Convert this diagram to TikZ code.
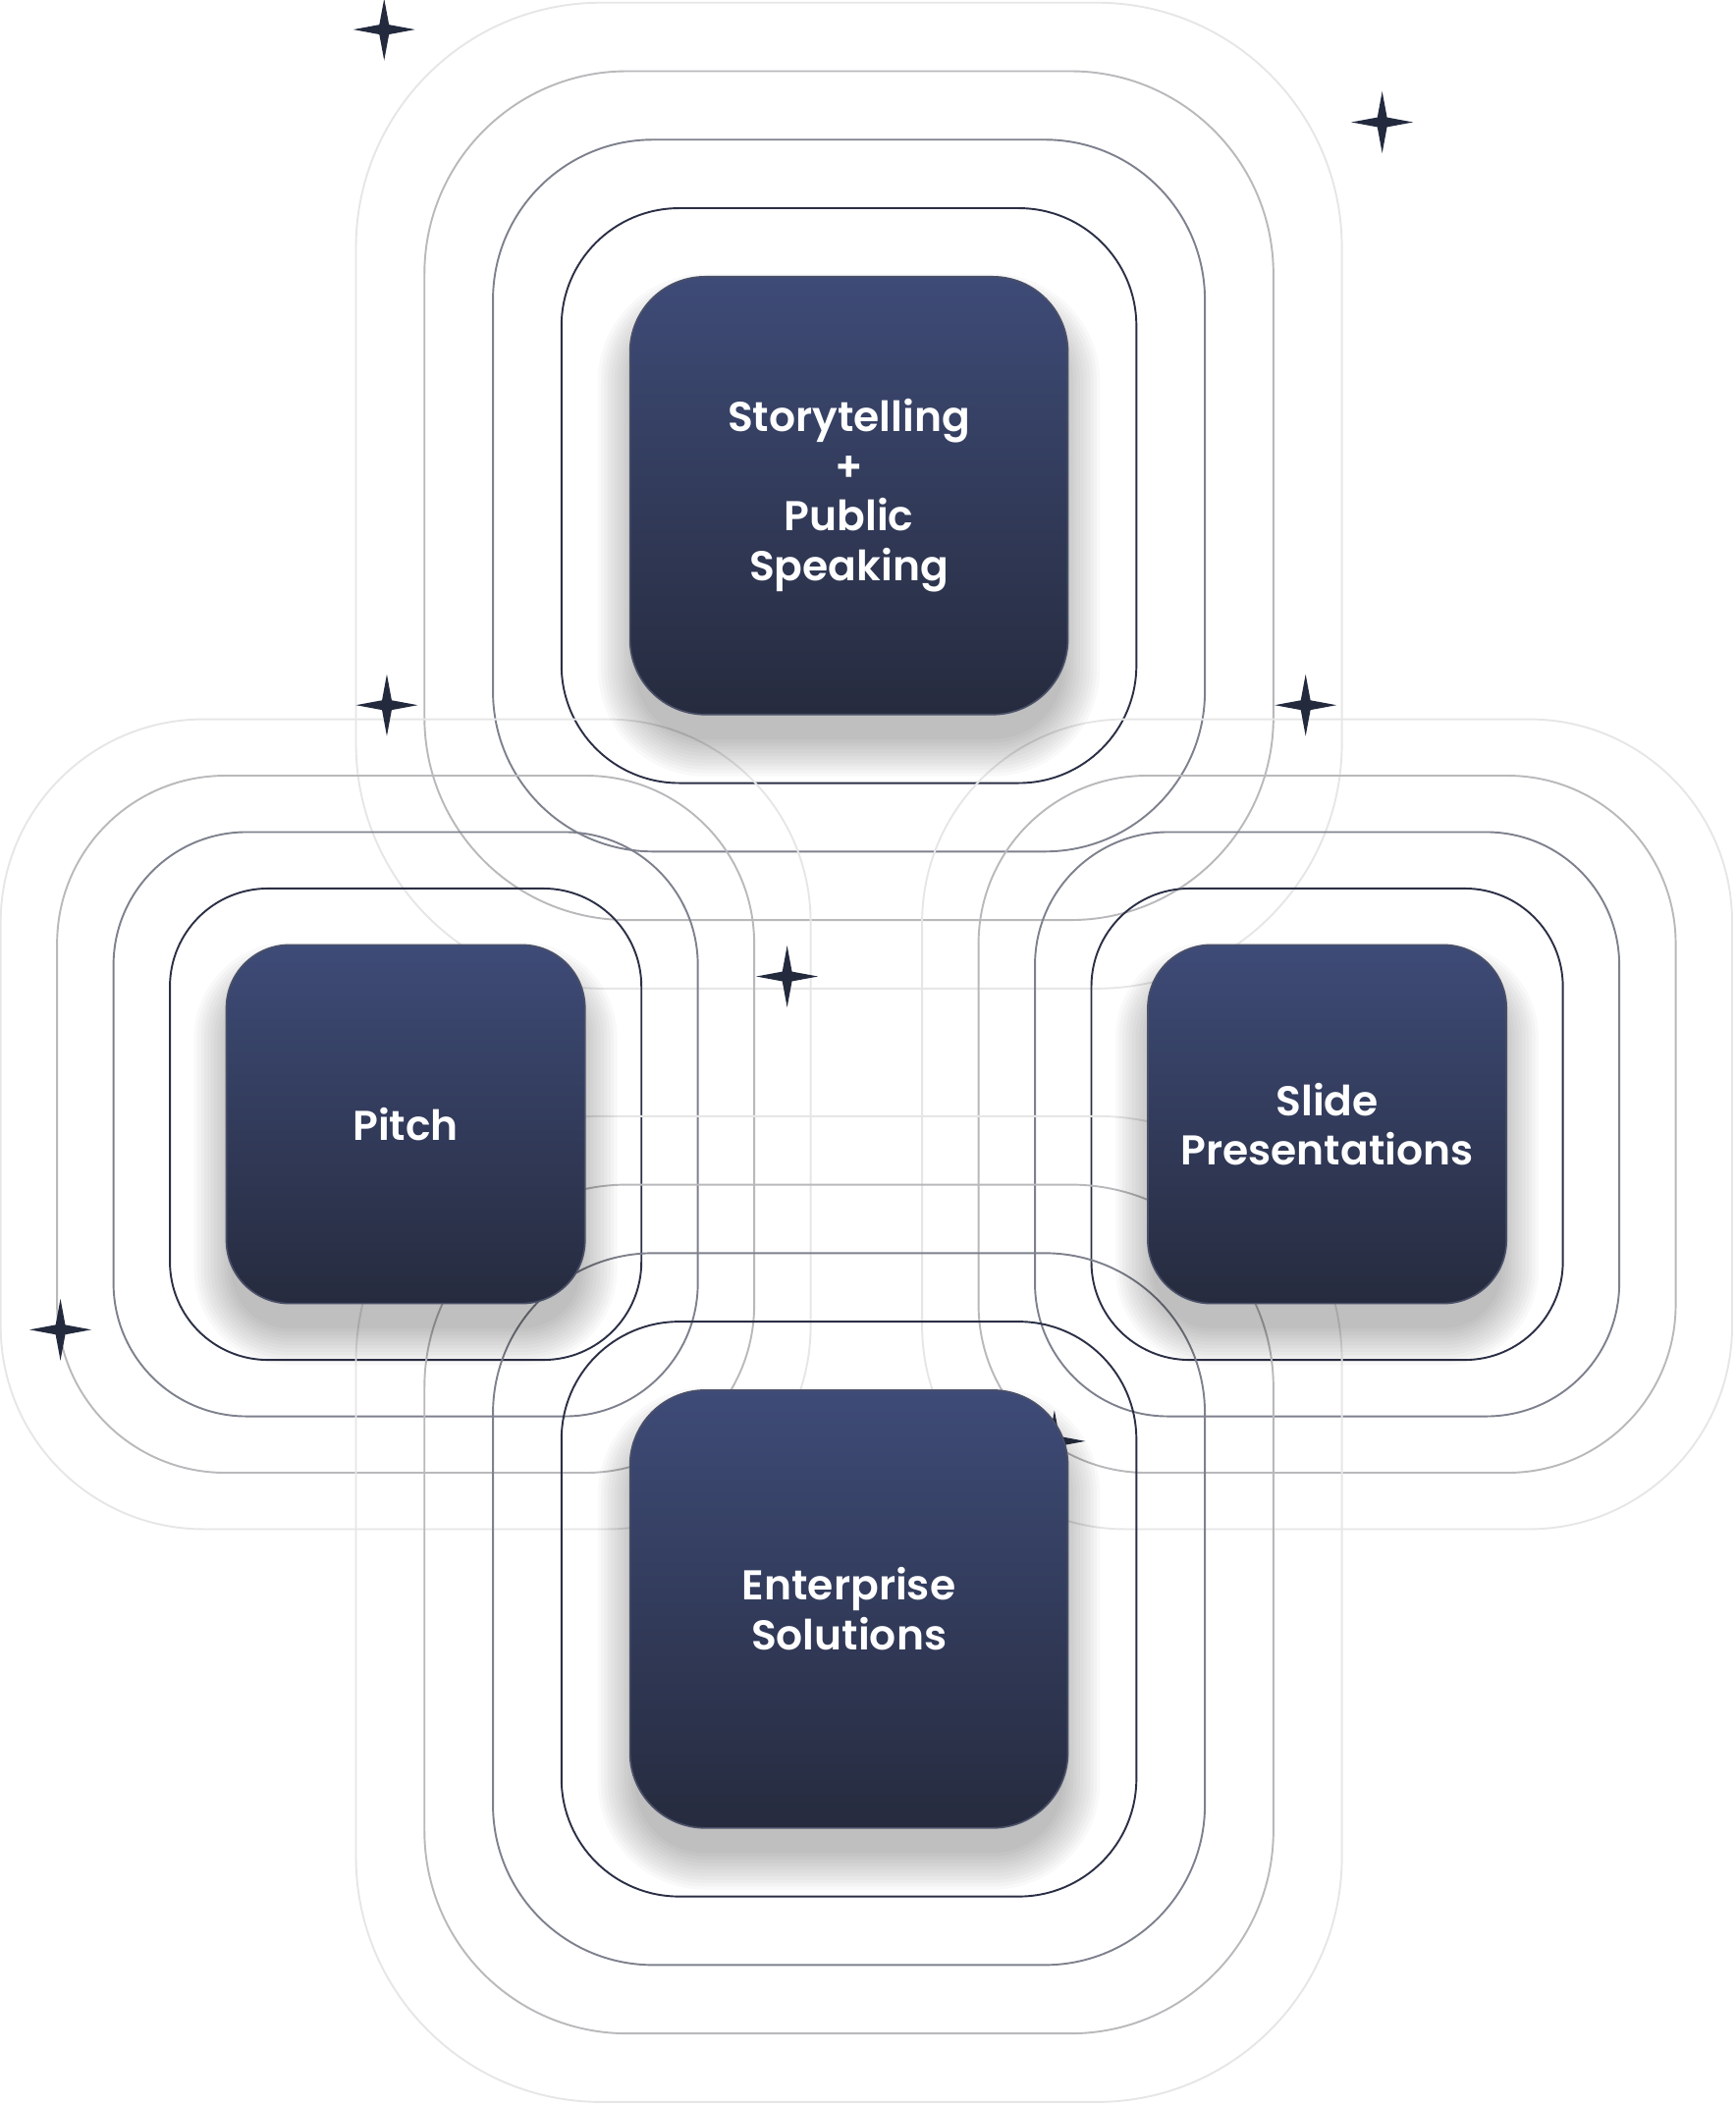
\documentclass[tikz,border=0pt]{standalone}
\usepackage{fontspec}
\setmainfont{Poppins}[BoldFont={* SemiBold}]
\usepackage{tikz}
\usetikzlibrary{backgrounds}
\usepackage{xcolor}
\definecolor{TileTop}{HTML}{3E4B77}
\definecolor{TileBot}{HTML}{262B3E}
\definecolor{TileEdge}{HTML}{4A5068}
\definecolor{RingA}{HTML}{2B2F45}
\definecolor{RingB}{HTML}{7E818D}
\definecolor{RingC}{HTML}{B9B9BC}
\definecolor{RingD}{HTML}{E6E6E6}
\definecolor{StarCol}{HTML}{232A3E}
\tikzstyle{Tile}=[rectangle,draw=TileEdge,line width=1.2pt,top color=TileTop,bottom color=TileBot,
text=white,align=center,inner sep=0pt,outer sep=0pt,font=\fontsize{31}{37}\selectfont\bfseries]
\tikzstyle{TileBig}=[Tile,minimum size=326pt,rounded corners=56pt]
\tikzstyle{TileSmall}=[Tile,minimum size=267pt,rounded corners=47pt]
\tikzstyle{RingLine}=[line width=1.4pt]
% concentric rings round a tile: node, step, tile radius
\newcommand{\DrawRings}[3]{%
  \foreach \k/\c in {4/RingD,3/RingC,2/RingB,1/RingA}{
    \pgfmathsetmacro{\d}{\k*#2}
    \pgfmathsetmacro{\r}{#3+0.62*\d}
    \draw[RingLine,\c,rounded corners=\r pt]
      ([shift={(-\d pt,\d pt)}]#1.north west) rectangle ([shift={(\d pt,-\d pt)}]#1.south east);
  }}
% soft shadow under a tile: node, tile radius
\newcommand{\DrawShadow}[2]{%
  \foreach \k in {1,...,12}{
    \pgfmathsetmacro{\e}{2.5*\k-6}
    \pgfmathsetmacro{\rr}{#2+\e}
    \fill[black,opacity=0.025,rounded corners=\rr pt]
      ([shift={(-\e pt,\e pt-22pt)}]#1.north west) rectangle ([shift={(\e pt,-\e pt-22pt)}]#1.south east);
  }}

\begin{document}
\begin{tikzpicture}[x=1pt,y=-1pt]
    \useasboundingbox (0,0) rectangle (1292,1568);
    \node[TileBig](story)at(632,369){Storytelling\\+\\Public\\Speaking};
    \node[TileSmall](pitch)at(302,837){Pitch};
    \node[TileSmall](slides)at(988,837){Slide\\Presentations};
    \node[TileBig](enterprise)at(632,1198){Enterprise\\Solutions};
    \begin{scope}[on background layer]
        \DrawRings{story}{51}{56}
        \DrawRings{pitch}{42}{47}
        \DrawRings{slides}{42}{47}
        \DrawRings{enterprise}{51}{56}
        % sparkles
        \foreach \sx/\sy in {286/22,1029/91,288/525,972/525,586/727,45/990,785/1073}
            \fill[StarCol,shift={(\sx,\sy)}] (0pt,23pt) -- (3.6pt,3.6pt) -- (23pt,0pt) -- (3.6pt,-3.6pt)
                -- (0pt,-23pt) -- (-3.6pt,-3.6pt) -- (-23pt,0pt) -- (-3.6pt,3.6pt) -- cycle;
        \DrawShadow{story}{56}
        \DrawShadow{pitch}{47}
        \DrawShadow{slides}{47}
        \DrawShadow{enterprise}{56}
    \end{scope}
\end{tikzpicture}
\end{document}
